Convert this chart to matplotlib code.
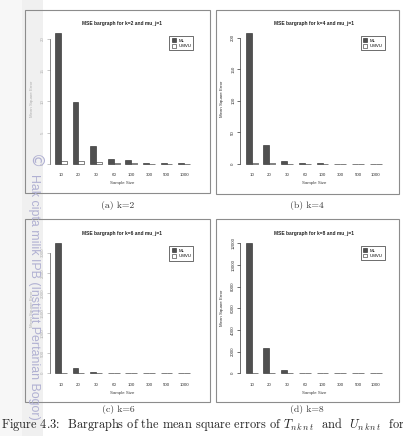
import matplotlib
matplotlib.use("Agg")
import matplotlib.pyplot as plt
from matplotlib.patches import Rectangle, Patch

plt.rcParams['mathtext.fontset'] = 'cm'

W, H = 403, 436

sample_sizes = ['10', '20', '30', '60', '100', '300', '500', '1000']
series_names = ['ML', 'UMVU']

ml_k2 = [20.9, 9.85, 2.9, 0.75, 0.65, 0.2, 0.15, 0.1]
umvu_k2 = [0.43, 0.42, 0.28, 0.1, 0.1, 0.05, 0.04, 0.03]
ml_k4 = [206.8, 30, 4.7, 2.0, 1.5, 0.5, 0.4, 0.3]
umvu_k4 = [1.5, 0.8, 0.5, 0.3, 0.2, 0.1, 0.1, 0.05]
ml_k6 = [3230, 120, 30, 15, 12, 5, 4, 3]
umvu_k6 = [10, 5, 3, 2, 1.5, 0.5, 0.4, 0.3]
ml_k8 = [12000, 2350, 300, 60, 40, 15, 10, 5]
umvu_k8 = [20, 10, 5, 3, 2, 1, 0.8, 0.5]

yticks_k2 = [0, 5, 10, 15, 20]
yticks_k4 = [0, 50, 100, 150, 200]
yticks_k6 = [0, 500, 1000, 1500, 2000, 2500, 3000]
yticks_k8 = [0, 2000, 4000, 6000, 8000, 10000, 12000]

k_values = [2, 4, 6, 8]
sub_captions = ['(a)', '(b)', '(c)', '(d)']

fig = plt.figure(figsize=(W / 100, H / 100), dpi=100)

def fx(x):
    return x / W

def fy(y):
    return 1 - y / H

# left gray scan strip
fig.patches.append(Rectangle((0, 0), fx(22), 1, transform=fig.transFigure,
                             facecolor='#f7f7f7', edgecolor='none', zorder=-10))
fig.patches.append(Rectangle((fx(22), 0), fx(21), 1, transform=fig.transFigure,
                             facecolor='#f0f0f0', edgecolor='none', zorder=-10))

panels = [
    dict(box=(25, 210, 10, 193), xl=49.6, xr=195.4, y0=164.0, yt=39.0,
         ml=ml_k2, um=umvu_k2, yticks=yticks_k2, faint=True, cap=(118, 205)),
    dict(box=(216, 399, 10, 194), xl=240.3, xr=387.1, y0=164.0, yt=37.7,
         ml=ml_k4, um=umvu_k4, yticks=yticks_k4, faint=False, cap=(307, 205)),
    dict(box=(25, 210, 219, 402), xl=49.6, xr=195.4, y0=373.3, yt=252.7,
         ml=ml_k6, um=umvu_k6, yticks=yticks_k6, faint=True, cap=(118, 409)),
    dict(box=(216, 399, 219, 402), xl=240.3, xr=387.1, y0=373.3, yt=243.3,
         ml=ml_k8, um=umvu_k8, yticks=yticks_k8, faint=False, cap=(307, 409)),
]

FONT = 'Liberation Sans'
fs_small = 3.2

for i, p in enumerate(panels):
    bx0, bx1, by0, by1 = p['box']
    fig.patches.append(Rectangle((fx(bx0), fy(by1)), fx(bx1) - fx(bx0), fy(by0) - fy(by1),
                                 transform=fig.transFigure, facecolor='none',
                                 edgecolor='#8c8c8c', lw=0.8, zorder=-5))
    ml, um, yt = p['ml'], p['um'], p['yticks']
    M = max(max(ml), max(um))
    s = (p['y0'] - p['yt']) / yt[-1]
    top_px = p['y0'] - 1.04 * M * s
    bot_px = p['y0'] + 0.04 * M * s
    ax = fig.add_axes([fx(p['xl']), fy(bot_px), fx(p['xr']) - fx(p['xl']), fy(top_px) - fy(bot_px)])
    ax.patch.set_alpha(0)
    n = len(sample_sizes)
    pos_ml = [3 * (j + 1) - 1.5 for j in range(n)]
    pos_um = [3 * (j + 1) - 0.5 for j in range(n)]
    ax.bar(pos_ml, ml, width=1, color='#505050', edgecolor='#222222', lw=0.4)
    ax.bar(pos_um, um, width=1, color='white', edgecolor='#222222', lw=0.4)
    ax.set_xlim(1 - 0.04 * 23, 24 + 0.04 * 23)
    ax.set_ylim(-0.04 * M, 1.04 * M)
    for sp in ['top', 'right', 'bottom']:
        ax.spines[sp].set_visible(False)
    tcol = '#b0b0b0' if p['faint'] else '#333333'
    ax.spines['left'].set_bounds(0, yt[-1])
    ax.spines['left'].set_color('#555555' if p['faint'] else '#333333')
    ax.spines['left'].set_linewidth(0.5)
    ax.set_yticks(yt)
    ax.set_yticklabels([str(v) for v in yt], rotation=90, va='center',
                       fontsize=fs_small, family=FONT, color=tcol)
    ax.tick_params(axis='y', length=2.2, width=0.5, color=tcol, pad=1.5)
    ax.set_xticks([3 * (j + 1) - 1 for j in range(n)])
    ax.set_xticklabels(sample_sizes, fontsize=fs_small, family=FONT, color='#333333')
    ax.tick_params(axis='x', length=0, pad=3.0)
    cx = (p['xl'] + p['xr']) / 2
    fig.text(fx(cx), fy(top_px - 4.5), f'MSE bargraph for k={k_values[i]} and mu_j=1',
             ha='center', va='center', fontsize=3.5, fontweight='bold', family=FONT,
             color='#222222')
    fig.text(fx(cx), fy(p['y0'] + 19.2), 'Sample Size', ha='center', va='center',
             fontsize=fs_small, family=FONT, color='#444444')
    fig.text(fx(p['xl'] - 18), fy((top_px + bot_px) / 2), 'Mean Square Error',
             rotation=90, ha='center', va='center', fontsize=fs_small, family=FONT,
             color=tcol)
    handles = [Patch(facecolor='#505050', edgecolor='#222222', lw=0.4),
               Patch(facecolor='white', edgecolor='#222222', lw=0.4)]
    leg = ax.legend(handles, series_names, loc='upper right',
                    bbox_to_anchor=(fx(p['xr'] - 2), fy(top_px + 8)),
                    bbox_transform=fig.transFigure,
                    prop={'family': FONT, 'size': fs_small},
                    handlelength=0.9, handleheight=0.9, handletextpad=0.6,
                    labelspacing=0.25, borderpad=0.5, borderaxespad=0,
                    fancybox=False, framealpha=1, edgecolor='#333333')
    leg.get_frame().set_linewidth(0.5)
    cxp, cyp = p['cap']
    fig.text(fx(cxp), fy(cyp), f'{sub_captions[i]} k={k_values[i]}',
             ha='center', va='center', fontsize=7, family='cmr10', color='#333333')

# watermark
wm = fig.text(fx(34), fy(174), 'Hak cipta milik IPB (Institut Pertanian Bogor)',
              rotation=-90, ha='center', va='top', fontsize=8, family='Liberation Sans',
              color='#b0b0d2', zorder=5)
fig.canvas.draw()
ext = wm.get_window_extent()
wm.set_fontsize(8 * 247 / ext.height)
fig.text(fx(34.5), fy(162), '\u00a9', ha='center', va='center', fontsize=11,
         family='DejaVu Sans', color='#b0b0d2', rotation=-90, zorder=5)

# figure caption
fig.text(fx(1), fy(424),
         r'Figure 4.3:  Bargraphs of the mean square errors of $T_{n\,k\,n\,t}$  and  $U_{n\,k\,n\,t}$  for',
         ha='left', va='center', fontsize=8.9, family='cmr10', color='#222222')

fig.savefig('out.png', dpi=100)
